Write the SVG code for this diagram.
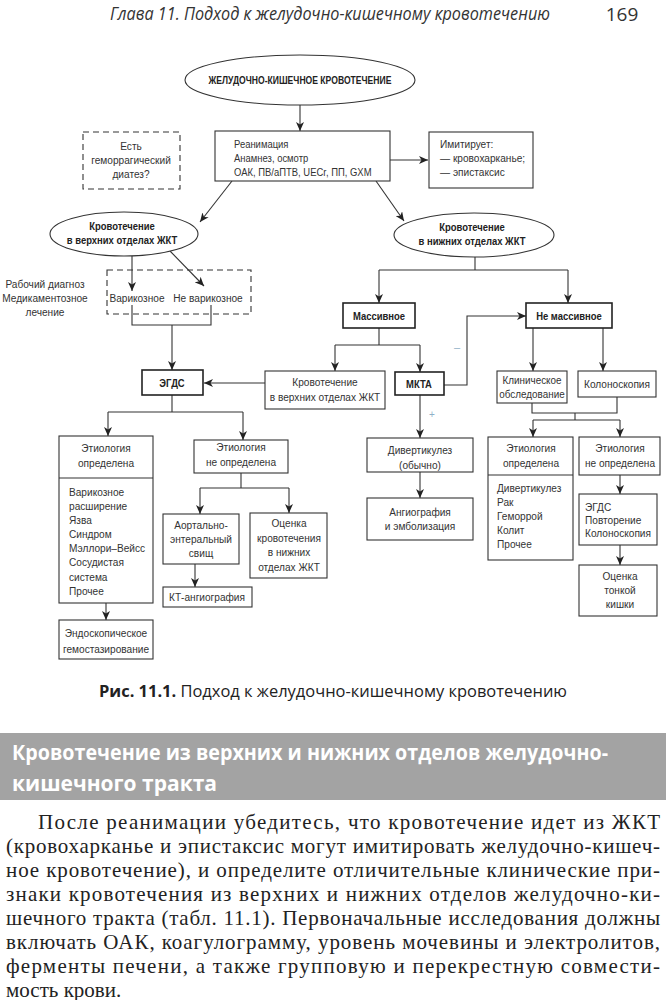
<svg xmlns="http://www.w3.org/2000/svg" width="666" height="1000" viewBox="0 0 666 1000">
<defs>
<marker id="ah" markerUnits="userSpaceOnUse" markerWidth="10" markerHeight="8" refX="9" refY="4" orient="auto">
<path d="M0,0 L9,4 L0,8 L2.5,4 z" fill="#222"/>
</marker>
<style>
.t{font-family:"Liberation Sans",Arial,sans-serif;font-size:11.5px;fill:#333}
.r{font-family:"Liberation Sans",Arial,sans-serif;font-size:11px;fill:#333}
.b{font-family:"Liberation Sans",Arial,sans-serif;font-size:11px;font-weight:bold;fill:#222}
.m{text-anchor:middle}
.box{fill:#fff;stroke:#333;stroke-width:1.1}
.bx2{fill:#fff;stroke:#222;stroke-width:1.6}
.dash{fill:none;stroke:#333;stroke-width:1.1;stroke-dasharray:6,4}
.el{fill:#fff;stroke:#333;stroke-width:1.1}
.c{fill:none;stroke:#333;stroke-width:1.1}
.a{marker-end:url(#ah)}
.body{font-family:"Liberation Serif",serif;font-size:21px;fill:#222}
</style>
</defs>
<rect width="666" height="1000" fill="#fff"/>
<g id="header">
<text x="330" y="20" textLength="440" lengthAdjust="spacingAndGlyphs" style="font-family:'Open Sans',sans-serif;font-style:italic;font-size:18px;fill:#333" text-anchor="middle">Глава 11. Подход к желудочно-кишечному кровотечению</text>
<text x="622" y="21" style="font-family:'Open Sans',sans-serif;font-size:19px;fill:#333" text-anchor="middle">169</text>
</g>
<g id="connectors">
<path class="c a" d="M300,105 V131"/>
<path class="c a" d="M390,160 H428"/>
<path class="c a" d="M232,181 L200,222"/>
<path class="c a" d="M376,181 L404,221"/>
<path class="c a" d="M132,256 V291"/>
<path class="c a" d="M170,251 L204,286"/>
<path class="c" d="M132,305 V325 H211 V305"/>
<path class="c a" d="M172,325 V370"/>
<path class="c a" d="M265,383 H204"/>
<path class="c" d="M172,395 V412 M108,412 H243"/>
<path class="c a" d="M108,412 V436"/>
<path class="c a" d="M243,412 V440"/>
<path class="c a" d="M106,603 V620"/>
<path class="c" d="M241,473 V488 M200,488 H289"/>
<path class="c a" d="M200,488 V514"/>
<path class="c a" d="M289,488 V513"/>
<path class="c a" d="M195,564 V587"/>
<path class="c" d="M475,257 V270 M379,270 H568"/>
<path class="c a" d="M379,270 V303"/>
<path class="c a" d="M568,270 V303"/>
<path class="c" d="M379,328 V345 M335,345 H420"/>
<path class="c a" d="M335,345 V371"/>
<path class="c a" d="M420,345 V372"/>
<path class="c a" d="M444,385 H467 V316 H526"/>
<path class="c a" d="M420,395 V438"/>
<path class="c a" d="M420,472 V498"/>
<path class="c a" d="M533,328 V371"/>
<path class="c a" d="M603,328 V371"/>
<path class="c" d="M532,403 V413 H617 V397 M575,413 V420 M533,420 H620"/>
<path class="c a" d="M533,420 V437"/>
<path class="c a" d="M620,420 V437"/>
<path class="c a" d="M620,475 V494"/>
<path class="c a" d="M620,545 V565"/>
<text x="457" y="351" style="font-family:'Liberation Sans',sans-serif;font-size:11px;fill:#8fb0c8" text-anchor="middle">–</text>
<text x="432" y="418" style="font-family:'Liberation Sans',sans-serif;font-size:10px;fill:#8fb0c8" text-anchor="middle">+</text>
</g>
<g id="n-start">
<ellipse class="el" cx="300" cy="80" rx="115" ry="25"/>
<text class="b m" transform="translate(300,84) scale(.86,1)" style="font-size:10px">ЖЕЛУДОЧНО-КИШЕЧНОЕ КРОВОТЕЧЕНИЕ</text>
</g>
<g id="n-reanim">
<rect class="box" x="215" y="131" width="175" height="50"/>
<text class="r" transform="translate(234,148) scale(.86,1)">Реанимация</text>
<text class="r" transform="translate(234,162) scale(.86,1)">Анамнез, осмотр</text>
<text class="r" transform="translate(234,176) scale(.86,1)">ОАК, ПВ/аПТВ, UECr, ПП, GXM</text>
</g>
<g id="n-diathesis">
<rect class="dash" x="83" y="132" width="97" height="57"/>
<text class="t m" transform="translate(131,150) scale(.88,1)">Есть</text>
<text class="t m" transform="translate(131,164) scale(.88,1)">геморрагический</text>
<text class="t m" transform="translate(131,178) scale(.88,1)">диатез?</text>
</g>
<g id="n-imitates">
<rect class="box" x="429" y="132" width="104" height="56"/>
<text class="t" transform="translate(440,148) scale(.88,1)">Имитирует:</text>
<text class="t" transform="translate(440,162) scale(.88,1)">— кровохарканье;</text>
<text class="t" transform="translate(440,176) scale(.88,1)">— эпистаксис</text>
</g>
<g id="n-upper">
<ellipse class="el" cx="124" cy="234" rx="74" ry="22"/>
<text class="b m" transform="translate(122,230) scale(.86,1)">Кровотечение</text>
<text class="b m" transform="translate(122,244) scale(.86,1)">в верхних отделах ЖКТ</text>
</g>
<g id="n-lower">
<ellipse class="el" cx="474" cy="235" rx="80" ry="22"/>
<text class="b m" transform="translate(472,231) scale(.86,1)">Кровотечение</text>
<text class="b m" transform="translate(472,245) scale(.86,1)">в нижних отделах ЖКТ</text>
</g>
<g id="n-workdx">
<text class="t m" transform="translate(45,288) scale(.88,1)">Рабочий диагноз</text>
<text class="t m" transform="translate(45,302) scale(.88,1)">Медикаментозное</text>
<text class="t m" transform="translate(45,316) scale(.88,1)">лечение</text>
</g>
<g id="n-varices">
<rect class="dash" x="107" y="270" width="144" height="44"/>
<text class="t m" transform="translate(137,302) scale(.88,1)">Варикозное</text>
<text class="t m" transform="translate(208,302) scale(.88,1)">Не варикозное</text>
</g>
<g id="n-egds">
<rect class="bx2" x="142" y="370" width="61" height="25"/>
<text class="b m" transform="translate(172,387) scale(.86,1)">ЭГДС</text>
</g>
<g id="n-upper2">
<rect class="box" x="265" y="371" width="120" height="38"/>
<text class="t m" transform="translate(325,386) scale(.88,1)">Кровотечение</text>
<text class="t m" transform="translate(325,401) scale(.88,1)">в верхних отделах ЖКТ</text>
</g>
<g id="n-massive">
<rect class="bx2" x="343" y="303" width="72" height="25"/>
<text class="b m" transform="translate(379,320) scale(.86,1)">Массивное</text>
</g>
<g id="n-notmassive">
<rect class="bx2" x="526" y="303" width="86" height="25"/>
<text class="b m" transform="translate(569,320) scale(.86,1)">Не массивное</text>
</g>
<g id="n-mkta">
<rect class="bx2" x="395" y="372" width="49" height="23"/>
<text class="b m" transform="translate(419,388) scale(.86,1)">МКТА</text>
</g>
<g id="n-etiol-l">
<rect class="box" x="59" y="436" width="94" height="167"/>
<line class="c" x1="59" y1="478" x2="153" y2="478"/>
<text class="t m" transform="translate(106,452) scale(.88,1)">Этиология</text>
<text class="t m" transform="translate(106,467) scale(.88,1)">определена</text>
<text class="t" transform="translate(69,496) scale(.88,1)">Варикозное</text>
<text class="t" transform="translate(69,510) scale(.88,1)">расширение</text>
<text class="t" transform="translate(69,524) scale(.88,1)">Язва</text>
<text class="t" transform="translate(69,538) scale(.88,1)">Синдром</text>
<text class="t" transform="translate(69,552) scale(.88,1)">Мэллори–Вейсс</text>
<text class="t" transform="translate(69,566) scale(.88,1)">Сосудистая</text>
<text class="t" transform="translate(69,581) scale(.88,1)">система</text>
<text class="t" transform="translate(69,595) scale(.88,1)">Прочее</text>
</g>
<g id="n-endo">
<rect class="box" x="59" y="620" width="94" height="39"/>
<text class="t m" transform="translate(106,637) scale(.88,1)">Эндоскопическое</text>
<text class="t m" transform="translate(106,653) scale(.88,1)">гемостазирование</text>
</g>
<g id="n-etiol-m">
<rect class="box" x="194" y="440" width="94" height="33"/>
<text class="t m" transform="translate(241,451) scale(.88,1)">Этиология</text>
<text class="t m" transform="translate(241,466) scale(.88,1)">не определена</text>
</g>
<g id="n-aortal">
<rect class="box" x="163" y="514" width="76" height="50"/>
<text class="t m" transform="translate(201,529) scale(.88,1)">Аортально-</text>
<text class="t m" transform="translate(201,543) scale(.88,1)">энтеральный</text>
<text class="t m" transform="translate(201,557) scale(.88,1)">свищ</text>
</g>
<g id="n-kt">
<rect class="box" x="163" y="587" width="89" height="20"/>
<text class="t m" transform="translate(207,601) scale(.88,1)">КТ-ангиография</text>
</g>
<g id="n-lowereval">
<rect class="box" x="250" y="513" width="77" height="65"/>
<text class="t m" transform="translate(289,527) scale(.88,1)">Оценка</text>
<text class="t m" transform="translate(289,542) scale(.88,1)">кровотечения</text>
<text class="t m" transform="translate(289,556) scale(.88,1)">в нижних</text>
<text class="t m" transform="translate(289,571) scale(.88,1)">отделах ЖКТ</text>
</g>
<g id="n-divert">
<rect class="box" x="367" y="438" width="106" height="34"/>
<text class="t m" transform="translate(420,454) scale(.88,1)">Дивертикулез</text>
<text class="t m" transform="translate(420,469) scale(.88,1)">(обычно)</text>
</g>
<g id="n-angio">
<rect class="box" x="367" y="498" width="106" height="42"/>
<text class="t m" transform="translate(420,516) scale(.88,1)">Ангиография</text>
<text class="t m" transform="translate(420,530) scale(.88,1)">и эмболизация</text>
</g>
<g id="n-clinical">
<rect class="box" x="497" y="371" width="70" height="32"/>
<text class="t m" transform="translate(532,384) scale(.86,1)">Клиническое</text>
<text class="t m" transform="translate(532,398) scale(.86,1)">обследование</text>
</g>
<g id="n-colono">
<rect class="box" x="578" y="371" width="78" height="26"/>
<text class="t m" transform="translate(617,388) scale(.88,1)">Колоноскопия</text>
</g>
<g id="n-etiol-r1">
<rect class="box" x="488" y="437" width="85" height="123"/>
<line class="c" x1="488" y1="475" x2="573" y2="475"/>
<text class="t m" transform="translate(531,452) scale(.88,1)">Этиология</text>
<text class="t m" transform="translate(531,467) scale(.88,1)">определена</text>
<text class="t" transform="translate(497,492) scale(.88,1)">Дивертикулез</text>
<text class="t" transform="translate(497,506) scale(.88,1)">Рак</text>
<text class="t" transform="translate(497,520) scale(.88,1)">Геморрой</text>
<text class="t" transform="translate(497,534) scale(.88,1)">Колит</text>
<text class="t" transform="translate(497,548) scale(.88,1)">Прочее</text>
</g>
<g id="n-etiol-r2">
<rect class="box" x="579" y="437" width="81" height="38"/>
<text class="t m" transform="translate(620,452) scale(.88,1)">Этиология</text>
<text class="t m" transform="translate(620,467) scale(.88,1)">не определена</text>
</g>
<g id="n-repeat">
<rect class="box" x="579" y="494" width="78" height="51"/>
<text class="t" transform="translate(585,511) scale(.88,1)">ЭГДС</text>
<text class="t" transform="translate(585,524) scale(.88,1)">Повторение</text>
<text class="t" transform="translate(585,537) scale(.88,1)">Колоноскопия</text>
</g>
<g id="n-small">
<rect class="box" x="579" y="565" width="78" height="51"/>
<text class="t m" transform="translate(620,580) scale(.88,1)">Оценка</text>
<text class="t m" transform="translate(620,594) scale(.88,1)">тонкой</text>
<text class="t m" transform="translate(620,608) scale(.88,1)">кишки</text>
</g>
<g id="caption">
<text x="333" y="697" text-anchor="middle" textLength="468" lengthAdjust="spacingAndGlyphs" style="font-family:'Open Sans',sans-serif;font-size:16px;fill:#222"><tspan font-weight="bold">Рис. 11.1.</tspan> Подход к желудочно-кишечному кровотечению</text>
</g>
<g id="section">
<rect x="0" y="733" width="666" height="67" fill="#a3a3a3"/>
<text x="12" y="760" textLength="596" lengthAdjust="spacingAndGlyphs" style="font-family:'Open Sans',sans-serif;font-weight:bold;font-size:21px;fill:#fff">Кровотечение из верхних и нижних отделов желудочно-</text>
<text x="12" y="791" style="font-family:'Open Sans',sans-serif;font-weight:bold;font-size:21px;fill:#fff">кишечного тракта</text>
<text class="body" x="38" y="829" textLength="622" lengthAdjust="spacing">После реанимации убедитесь, что кровотечение идет из ЖКТ</text>
<text class="body" x="6" y="853" textLength="654" lengthAdjust="spacing">(кровохарканье и эпистаксис могут имитировать желудочно-кишеч-</text>
<text class="body" x="6" y="877" textLength="654" lengthAdjust="spacing">ное кровотечение), и определите отличительные клинические при-</text>
<text class="body" x="6" y="901" textLength="654" lengthAdjust="spacing">знаки кровотечения из верхних и нижних отделов желудочно-ки-</text>
<text class="body" x="6" y="925" textLength="654" lengthAdjust="spacing">шечного тракта (табл. 11.1). Первоначальные исследования должны</text>
<text class="body" x="6" y="949" textLength="654" lengthAdjust="spacing">включать ОАК, коагулограмму, уровень мочевины и электролитов,</text>
<text class="body" x="6" y="973" textLength="654" lengthAdjust="spacing">ферменты печени, а также групповую и перекрестную совмести-</text>
<text class="body" x="6" y="997">мость крови.</text>
</g>
</svg>
